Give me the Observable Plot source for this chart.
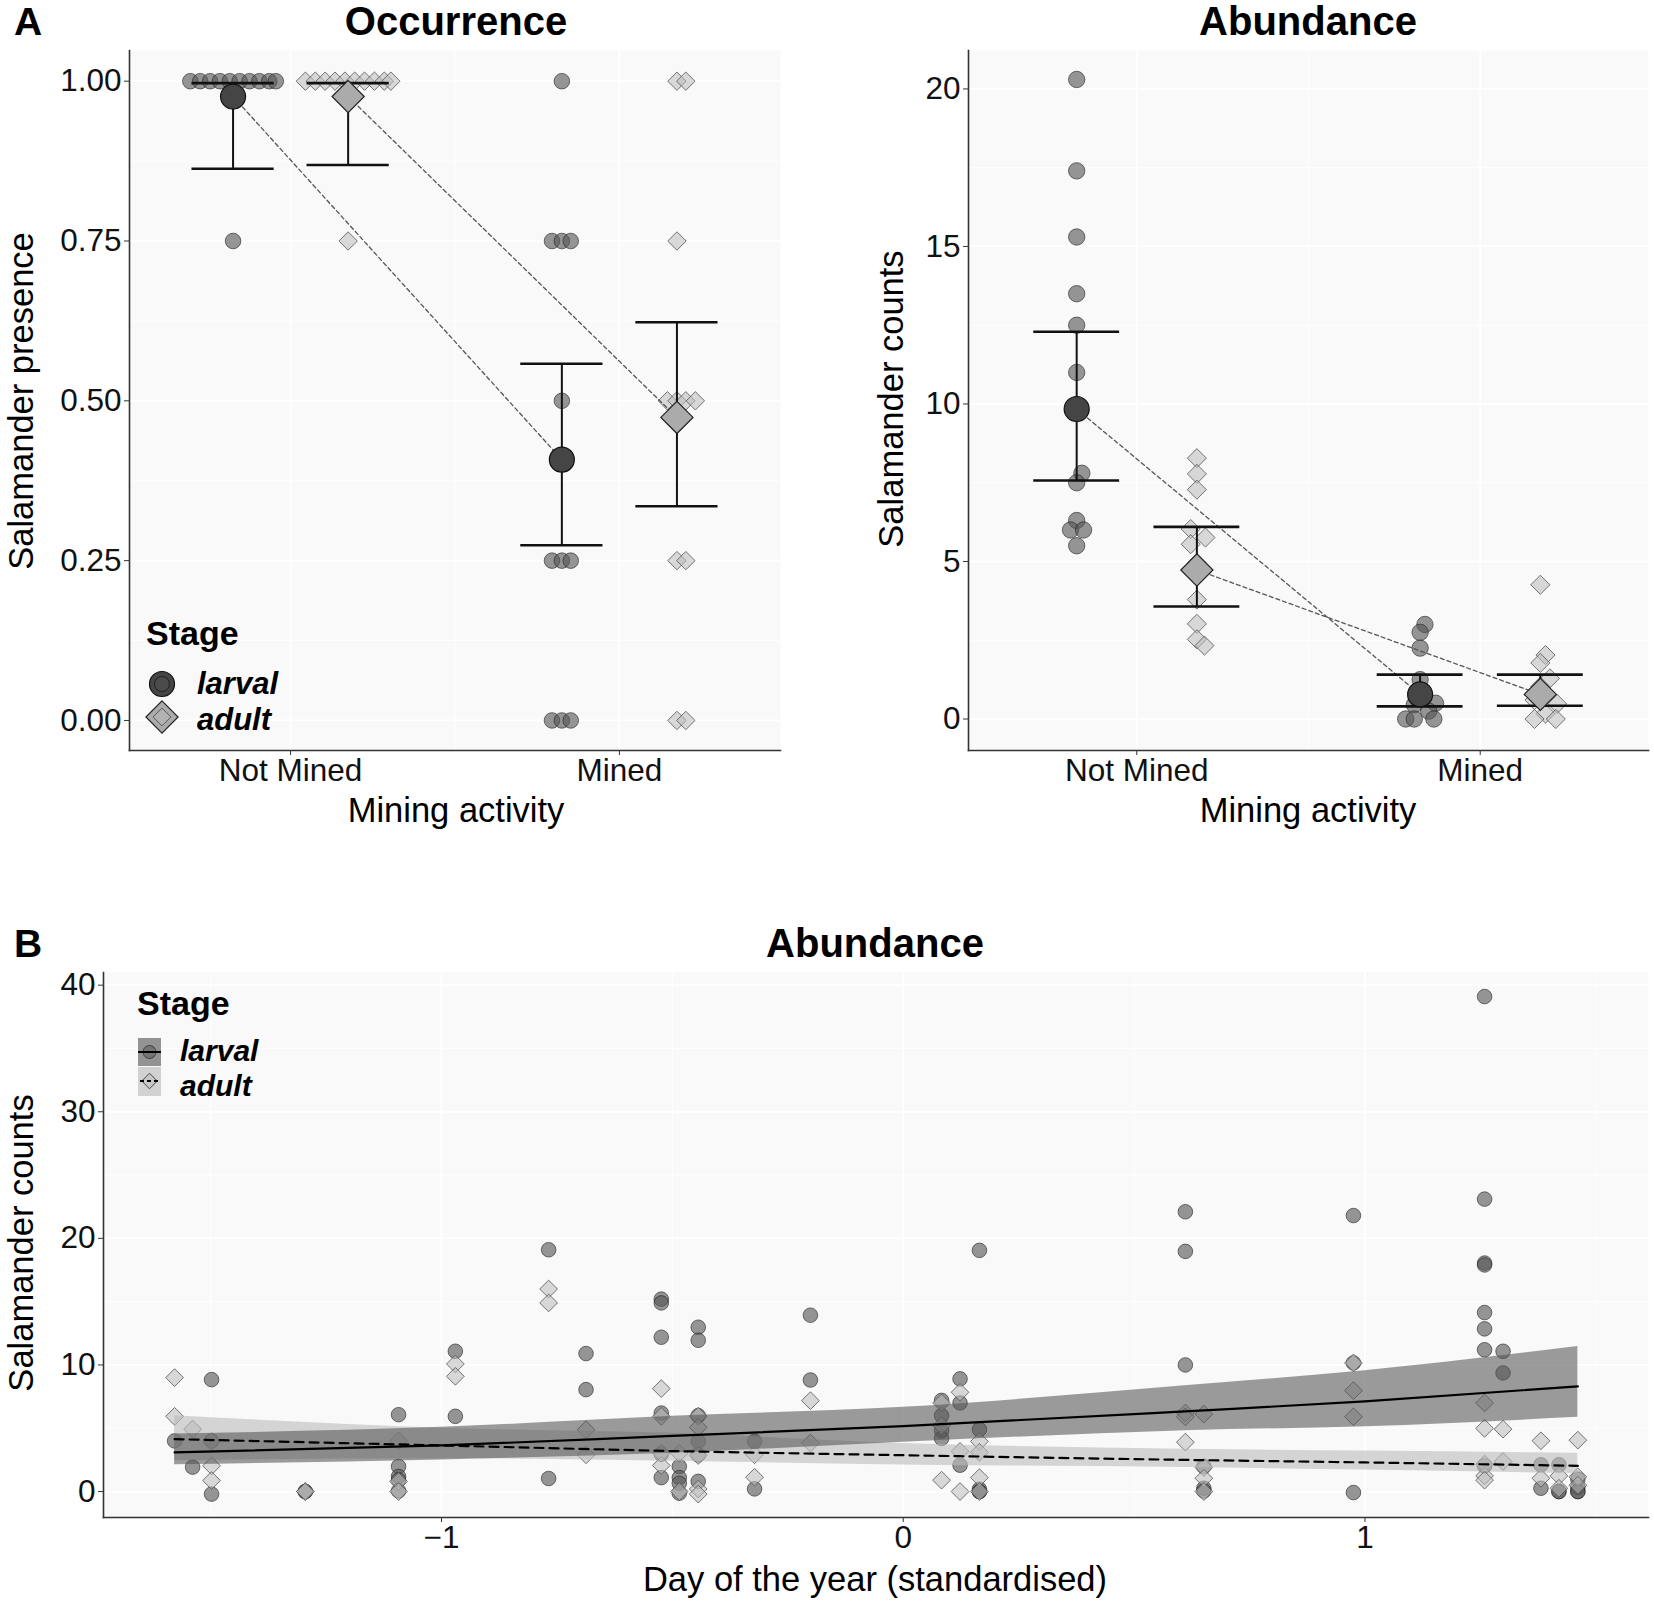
<!DOCTYPE html>
<html><head><meta charset="utf-8">
<script src="https://cdn.jsdelivr.net/npm/d3@7"></script>
<script src="https://cdn.jsdelivr.net/npm/@observablehq/plot@0.6"></script>
<style>
body{margin:0;background:#fff;}
#fig{position:relative;width:1654px;height:1603px;background:#fff;}
.pl{position:absolute;}
</style></head><body><div id="fig"></div>
<script>
const FONT = '"Liberation Sans", Arial, Helvetica, sans-serif';
// ---------- shared categories ----------
const miningLevels = ["Not Mined", "Mined"];
const stages = ["larval", "adult"];

// ---------- Panel A1: Occurrence ----------
const occTicks = [0, 0.25, 0.5, 0.75, 1];
const occMinor = [0.125, 0.375, 0.625, 0.875];
const occLarvalMean = [0.976, 0.408];
const occLarvalLo = [0.863, 0.274];
const occLarvalHi = [0.997, 0.558];
const occAdultMean = [0.976, 0.474];
const occAdultLo = [0.869, 0.335];
const occAdultHi = [0.997, 0.623];
const occLarvalNM = [1, 1, 1, 1, 1, 1, 1, 1, 1, 1, 0.75];
const occLarvalNMJit = [-0.13, -0.1, -0.07, -0.04, -0.01, 0.02, 0.05, 0.08, 0.11, 0.13, 0];
const occAdultNM = [1, 1, 1, 1, 1, 1, 1, 1, 1, 1, 0.75];
const occAdultNMJit = [-0.13, -0.1, -0.07, -0.04, -0.01, 0.02, 0.05, 0.08, 0.11, 0.13, 0];
const occLarvalM = [1, 0.75, 0.75, 0.75, 0.5, 0.25, 0.25, 0.25, 0, 0, 0];
const occLarvalMJit = [0, -0.03, 0, 0.027, 0, -0.03, 0, 0.027, -0.03, 0, 0.027];
const occAdultM = [1, 1, 0.75, 0.5, 0.5, 0.5, 0.5, 0.25, 0.25, 0, 0];
const occAdultMJit = [0, 0.027, 0, -0.029, 0, 0.027, 0.056, 0, 0.027, 0, 0.027];

// ---------- Panel A2: Abundance by mining ----------
const abTicks = [0, 5, 10, 15, 20];
const abMinor = [2.5, 7.5, 12.5, 17.5];
const abLarvalMean = [9.84, 0.78];
const abLarvalLo = [7.57, 0.40];
const abLarvalHi = [12.29, 1.41];
const abAdultMean = [4.73, 0.78];
const abAdultLo = [3.57, 0.42];
const abAdultHi = [6.1, 1.41];
const abLarvalNM = [20.3, 17.4, 15.3, 13.5, 12.5, 11.0, 7.8, 7.5, 6.3, 6.0, 6.0, 5.5];
const abLarvalNMJit = [0, 0, 0, 0, 0, 0, 0.015, 0, 0, -0.018, 0.02, 0];
const abAdultNM = [8.28, 7.78, 7.28, 6.03, 5.76, 5.55, 4.95, 3.79, 3.02, 2.53, 2.33];
const abAdultNMJit = [0, 0, 0, -0.018, 0.025, -0.018, 0, 0, 0, 0, 0.022];
const abLarvalM = [3.0, 2.75, 2.25, 1.25, 0.75, 0.5, 0.45, 0.25, 0, 0, 0];
const abLarvalMJit = [0.014, 0, 0, 0, 0, 0.045, -0.017, 0.025, -0.042, -0.017, 0.04];
const abAdultM = [4.26, 2.03, 1.78, 1.29, 1.03, 0.8, 0.6, 0.48, 0.17, 0, 0];
const abAdultMJit = [0, 0.015, 0, 0.028, 0, 0, -0.017, 0.049, 0.015, -0.017, 0.045];

// ---------- Panel B: Abundance by day ----------
const dayTicks = [-1, 0, 1];
const dayMinor = [-1.5, -0.5, 0.5, 1.5];
const countTicks = [0, 10, 20, 30, 40];
const countMinor = [5, 15, 25, 35];
const bLarvalDay = [-1.578, -1.539, -1.498, -1.498, -1.498, -1.295, -1.295,
  -1.093, -1.093, -1.093, -1.093, -1.093, -0.970, -0.970, -0.768, -0.768, -0.687, -0.687,
  -0.524, -0.524, -0.524, -0.524, -0.524, -0.524, -0.485, -0.485, -0.485, -0.485,
  -0.444, -0.444, -0.444, -0.444, -0.444, -0.444, -0.322, -0.322, -0.201, -0.201,
  0.083, 0.083, 0.083, 0.083, 0.123, 0.123, 0.123, 0.165, 0.165, 0.165, 0.165, 0.165,
  0.611, 0.611, 0.611, 0.651, 0.651, 0.651, 0.975, 0.975, 0.975,
  1.259, 1.259, 1.259, 1.259, 1.259, 1.259, 1.259, 1.259, 1.299, 1.299,
  1.381, 1.381, 1.420, 1.420, 1.420, 1.461, 1.461, 1.461, 1.461];
const bLarvalCount = [4.0, 1.93, 8.84, 4.0, -0.2, 0, 0,
  6.07, 1.98, 1.19, 0.92, 0.05, 11.08, 5.94, 19.1, 1.03, 10.9, 8.05,
  15.2, 14.9, 12.19, 6.2, 2.96, 1.1, 1.98, 1.1, 0.66, -0.13,
  12.98, 11.95, 6.0, 3.96, 2.9, 0.8, 3.96, 0.21, 13.93, 8.81,
  7.2, 6.0, 4.8, 4.2, 8.9, 7.0, 2.08, 19.05, 4.9, 0.18, 0, 0,
  22.1, 18.97, 10.0, 1.98, 0.26, 0.05, 21.8, 10.16, -0.08,
  39.1, 23.1, 18.05, 17.9, 14.14, 12.85, 11.2, 2.03, 11.08, 9.37,
  2.11, 0.26, 2.11, 0, 0, 0.98, 0.32, 0, 0];
const bAdultDay = [-1.578, -1.578, -1.539, -1.498, -1.498, -1.498, -1.295, -1.295,
  -1.093, -1.093, -1.093, -0.970, -0.970, -0.768, -0.768, -0.687, -0.687,
  -0.524, -0.524, -0.524, -0.524, -0.485, -0.485, -0.444, -0.444, -0.444, -0.444, -0.444,
  -0.322, -0.322, -0.201, -0.201, 0.083, 0.083, 0.083, 0.123, 0.123, 0.123,
  0.165, 0.165, 0.165, 0.165, 0.611, 0.611, 0.611, 0.651, 0.651, 0.651, 0.651,
  0.975, 0.975, 0.975, 1.259, 1.259, 1.259, 1.259, 1.259, 1.299, 1.299,
  1.381, 1.381, 1.420, 1.420, 1.461, 1.461, 1.461];
const bAdultCount = [9.0, 5.94, 4.93, 3.96, 2.03, 0.87, 0, 0,
  4.0, 0.8, 0, 10.08, 9.1, 16.0, 14.9, 4.88, 2.9,
  8.13, 5.94, 3.03, 2.06, 3.03, 0, 5.96, 5.07, 2.85, 0.2, -0.2,
  2.9, 1.13, 7.18, 3.83, 7.0, 5.2, 0.9, 7.84, 3.17, 0,
  3.96, 3.1, 1.1, 0, 6.2, 5.9, 3.9, 6.12, 1.9, 1.05, 0,
  10.16, 7.97, 5.91, 7.0, 4.99, 2.16, 1.24, 0.9, 4.93, 2.37,
  4.01, 1.05, 1.24, 0.26, 4.06, 1.16, 0.5];
const fitDay = [-1.578, -1.0, -0.5, 0, 0.61, 1.0, 1.461];
const larvalFit = [3.09, 3.64, 4.4, 5.17, 6.33, 7.12, 8.31];
const larvalLo = [2.11, 2.5, 3.03, 3.9, 4.8, 5.12, 5.86];
const larvalHi = [4.54, 5.07, 5.94, 6.65, 8.36, 9.55, 11.45];
const adultFit = [4.14, 3.64, 3.2, 2.87, 2.5, 2.3, 2.03];
const adultLo = [2.43, 2.6, 2.4, 2.1, 1.9, 1.7, 1.42];
const adultHi = [5.99, 5.0, 4.6, 3.8, 3.35, 3.2, 3.03];

// ---------- helpers ----------
const DODGE = 0.175, WHISK = 0.125;
const off = {larval: -DODGE, adult: DODGE};
function rawRows(stage, m, vals, jit) { return vals.map((v, i) => ({stage, m, v, jit: jit[i]})); }
function meanRows(stage, mean, lo, hi) { return mean.map((v, i) => ({stage, m: i + 1, v, lo: lo[i], hi: hi[i]})); }
const fig = document.getElementById("fig");
const PANEL_BG = "#f9f9f9";
const TICK_FS = 31.5;
const C_FILL = "#555", C_FOP = 0.62, C_STROKE = "#222";
const D_FILL = "#bbb", D_FOP = 0.55, D_STROKE = "#555";

function groupPanel({raw, means, width, height, margins, yDomain, yTicks, yMinor, yFormat, rC, rD}) {
  const xc = d => d.m + off[d.stage];
  const larvalRaw = raw.filter(d => d.stage === "larval");
  const adultRaw = raw.filter(d => d.stage === "adult");
  return Plot.plot({
    width, height, ...margins,
    x: {type: "linear", domain: [0.51, 2.49]},
    y: {domain: yDomain},
    style: {fontFamily: FONT, background: "transparent", color: "#111"},
    marks: [
      Plot.frame({fill: PANEL_BG, stroke: null}),
      Plot.gridY(yMinor, {stroke: "#fff", strokeOpacity: 1, strokeWidth: 0.9}),
      Plot.gridX([1.5], {stroke: "#fff", strokeOpacity: 1, strokeWidth: 0.9}),
      Plot.gridY(yTicks, {stroke: "#fff", strokeOpacity: 1, strokeWidth: 1.8}),
      Plot.gridX([1, 2], {stroke: "#fff", strokeOpacity: 1, strokeWidth: 1.8}),
      Plot.axisY(yTicks, {tickFormat: yFormat, tickSize: 5, tickPadding: 3, fontSize: TICK_FS, label: null, stroke: "#333"}),
      Plot.axisX([1, 2], {tickFormat: i => miningLevels[i - 1], tickSize: 5, tickPadding: 3, fontSize: TICK_FS, label: null, stroke: "#333"}),
      Plot.frame({anchor: "left", stroke: "#333", strokeWidth: 1.6}),
      Plot.frame({anchor: "bottom", stroke: "#333", strokeWidth: 1.6}),
      Plot.dot(larvalRaw, {x: d => xc(d) + d.jit, y: "v", symbol: "circle", r: rC, fill: C_FILL, fillOpacity: C_FOP, stroke: C_STROKE, strokeOpacity: 0.6, strokeWidth: 1}),
      Plot.dot(adultRaw, {x: d => xc(d) + d.jit, y: "v", symbol: "diamond2", r: rD, fill: D_FILL, fillOpacity: D_FOP, stroke: D_STROKE, strokeOpacity: 0.8, strokeWidth: 1}),
      Plot.line(means, {x: xc, y: "v", z: "stage", stroke: "#555", strokeWidth: 1.3, strokeDasharray: "4,3"}),
      Plot.ruleX(means, {x: xc, y1: "lo", y2: "hi", stroke: "#111", strokeWidth: 2}),
      Plot.ruleY(means, {y: "hi", x1: d => xc(d) - WHISK, x2: d => xc(d) + WHISK, stroke: "#111", strokeWidth: 2.6}),
      Plot.ruleY(means, {y: "lo", x1: d => xc(d) - WHISK, x2: d => xc(d) + WHISK, stroke: "#111", strokeWidth: 2.6}),
      Plot.dot(means.filter(d => d.stage === "larval"), {x: xc, y: "v", symbol: "circle", r: 12.5, fill: "#454545", stroke: "#111", strokeWidth: 1.2}),
      Plot.dot(means.filter(d => d.stage === "adult"), {x: xc, y: "v", symbol: "diamond2", r: 14.5, fill: "#ababab", stroke: "#222", strokeWidth: 1.2})
    ]
  });
}

// A1
const occRaw = [
  ...rawRows("larval", 1, occLarvalNM, occLarvalNMJit), ...rawRows("larval", 2, occLarvalM, occLarvalMJit),
  ...rawRows("adult", 1, occAdultNM, occAdultNMJit), ...rawRows("adult", 2, occAdultM, occAdultMJit)];
const occMeans = [...meanRows("larval", occLarvalMean, occLarvalLo, occLarvalHi), ...meanRows("adult", occAdultMean, occAdultLo, occAdultHi)];
const pA1 = groupPanel({raw: occRaw, means: occMeans, width: 800, height: 800,
  margins: {marginLeft: 129, marginRight: 20, marginTop: 50, marginBottom: 50},
  yDomain: [-0.047, 1.048], yTicks: occTicks, yMinor: occMinor, yFormat: d3.format(".2f"), rC: 7.8, rD: 8.3});
pA1.classList.add("pl"); pA1.style.left = "0px"; pA1.style.top = "0px";
fig.appendChild(pA1);

// A2
const abRaw = [
  ...rawRows("larval", 1, abLarvalNM, abLarvalNMJit), ...rawRows("larval", 2, abLarvalM, abLarvalMJit),
  ...rawRows("adult", 1, abAdultNM, abAdultNMJit), ...rawRows("adult", 2, abAdultM, abAdultMJit)];
const abMeans = [...meanRows("larval", abLarvalMean, abLarvalLo, abLarvalHi), ...meanRows("adult", abAdultMean, abAdultLo, abAdultHi)];
const pA2 = groupPanel({raw: abRaw, means: abMeans, width: 824, height: 800,
  margins: {marginLeft: 138, marginRight: 6, marginTop: 50, marginBottom: 50},
  yDomain: [-1.0, 21.22], yTicks: abTicks, yMinor: abMinor, yFormat: d3.format("d"), rC: 8.2, rD: 8.6});
pA2.classList.add("pl"); pA2.style.left = "830px"; pA2.style.top = "0px";
fig.appendChild(pA2);

// B
const bLarval = bLarvalDay.map((x, i) => ({x, v: bLarvalCount[i]}));
const bAdult = bAdultDay.map((x, i) => ({x, v: bAdultCount[i]}));
const fitRows = stage => fitDay.map((x, i) => stage === "larval"
  ? {x, fit: larvalFit[i], lo: larvalLo[i], hi: larvalHi[i]}
  : {x, fit: adultFit[i], lo: adultLo[i], hi: adultHi[i]});
const pB = Plot.plot({
  width: 1654, height: 680, marginLeft: 103, marginRight: 6, marginTop: 72, marginBottom: 63,
  x: {domain: [-1.732, 1.614]},
  y: {domain: [-2.05, 41.0]},
  style: {fontFamily: FONT, background: "transparent", color: "#111"},
  marks: [
    Plot.frame({fill: PANEL_BG, stroke: null}),
    Plot.gridY(countMinor, {stroke: "#fff", strokeOpacity: 1, strokeWidth: 0.9}),
    Plot.gridX(dayMinor, {stroke: "#fff", strokeOpacity: 1, strokeWidth: 0.9}),
    Plot.gridY(countTicks, {stroke: "#fff", strokeOpacity: 1, strokeWidth: 1.8}),
    Plot.gridX(dayTicks, {stroke: "#fff", strokeOpacity: 1, strokeWidth: 1.8}),
    Plot.axisY(countTicks, {tickFormat: d3.format("d"), tickSize: 5, tickPadding: 3, fontSize: TICK_FS, label: null, stroke: "#333"}),
    Plot.axisX(dayTicks, {tickFormat: d3.format("d"), tickSize: 5, tickPadding: 3, fontSize: TICK_FS, label: null, stroke: "#333"}),
    Plot.frame({anchor: "left", stroke: "#333", strokeWidth: 1.6}),
    Plot.frame({anchor: "bottom", stroke: "#333", strokeWidth: 1.6}),
    Plot.dot(bLarval, {x: "x", y: "v", symbol: "circle", r: 7.3, fill: C_FILL, fillOpacity: C_FOP, stroke: C_STROKE, strokeOpacity: 0.6, strokeWidth: 1}),
    Plot.dot(bAdult, {x: "x", y: "v", symbol: "diamond2", r: 8.0, fill: D_FILL, fillOpacity: D_FOP, stroke: D_STROKE, strokeOpacity: 0.8, strokeWidth: 1}),
    Plot.areaY(fitRows("adult"), {x: "x", y1: "lo", y2: "hi", fill: "#bbb", fillOpacity: 0.6, curve: "monotone-x"}),
    Plot.areaY(fitRows("larval"), {x: "x", y1: "lo", y2: "hi", fill: "#555", fillOpacity: 0.58, curve: "monotone-x"}),
    Plot.line(fitRows("adult"), {x: "x", y: "fit", stroke: "#000", strokeWidth: 2.2, strokeDasharray: "9,6", curve: "monotone-x"}),
    Plot.line(fitRows("larval"), {x: "x", y: "fit", stroke: "#000", strokeWidth: 2.2, curve: "monotone-x"})
  ]
});
pB.classList.add("pl"); pB.style.left = "0px"; pB.style.top = "900px";
fig.appendChild(pB);

// ---------- overlay: titles, axis titles, legends ----------
const ov = d3.select(fig).append("svg").attr("width", 1654).attr("height", 1603)
  .style("position", "absolute").style("left", "0px").style("top", "0px")
  .attr("font-family", FONT);
function txt(x, y, s, {size = 34.5, weight = "normal", style = "normal", anchor = "start", rot = false} = {}) {
  const t = ov.append("text").attr("x", x).attr("y", y).text(s)
    .attr("font-size", size).attr("font-weight", weight).attr("font-style", style)
    .attr("text-anchor", anchor).attr("fill", "#000");
  if (rot) t.attr("transform", `rotate(-90,${x},${y})`);
}
txt(14, 35, "A", {size: 39, weight: "bold"});
txt(456, 35, "Occurrence", {size: 40, weight: "bold", anchor: "middle"});
txt(1308, 35, "Abundance", {size: 40, weight: "bold", anchor: "middle"});
txt(14, 957, "B", {size: 39, weight: "bold"});
txt(875, 957, "Abundance", {size: 40, weight: "bold", anchor: "middle"});
txt(33, 401, "Salamander presence", {anchor: "middle", rot: true});
txt(903, 399, "Salamander counts", {anchor: "middle", rot: true});
txt(33, 1243, "Salamander counts", {anchor: "middle", rot: true});
txt(456, 822, "Mining activity", {anchor: "middle"});
txt(1308, 822, "Mining activity", {anchor: "middle"});
txt(875, 1591, "Day of the year (standardised)", {anchor: "middle"});

// legend A
txt(146, 645, "Stage", {size: 34, weight: "bold"});
txt(197, 694, stages[0], {size: 31, weight: "bold", style: "italic"});
txt(197, 730, stages[1], {size: 31, weight: "bold", style: "italic"});
const diamond = r => d3.symbol(d3.symbolDiamond2, Math.PI * r * r)();
ov.append("circle").attr("cx", 162).attr("cy", 684).attr("r", 12.5).attr("fill", "#454545").attr("stroke", "#111").attr("stroke-width", 1.2);
ov.append("circle").attr("cx", 162).attr("cy", 684).attr("r", 7.5).attr("fill", C_FILL).attr("fill-opacity", 0.35).attr("stroke", "#111").attr("stroke-opacity", 0.7);
ov.append("path").attr("d", diamond(14.5)).attr("transform", "translate(162,717)").attr("fill", "#ababab").attr("stroke", "#222").attr("stroke-width", 1.2);
ov.append("path").attr("d", diamond(8)).attr("transform", "translate(162,717)").attr("fill", D_FILL).attr("fill-opacity", 0.5).attr("stroke", "#444").attr("stroke-opacity", 0.8);

// legend B
txt(137, 1015, "Stage", {size: 34, weight: "bold"});
txt(180, 1061, stages[0], {size: 30, weight: "bold", style: "italic"});
txt(180, 1096, stages[1], {size: 30, weight: "bold", style: "italic"});
ov.append("rect").attr("x", 138).attr("y", 1038).attr("width", 23).attr("height", 28).attr("fill", "#939393");
ov.append("rect").attr("x", 138).attr("y", 1067).attr("width", 23).attr("height", 29).attr("fill", "#d2d2d2");
ov.append("circle").attr("cx", 149.5).attr("cy", 1052).attr("r", 6.5).attr("fill", C_FILL).attr("fill-opacity", 0.5).attr("stroke", "#222").attr("stroke-opacity", 0.7);
ov.append("line").attr("x1", 138).attr("x2", 161).attr("y1", 1052).attr("y2", 1052).attr("stroke", "#000").attr("stroke-width", 2);
ov.append("path").attr("d", diamond(7)).attr("transform", "translate(149.5,1081)").attr("fill", D_FILL).attr("fill-opacity", 0.5).attr("stroke", "#444");
ov.append("line").attr("x1", 140).attr("x2", 159).attr("y1", 1081).attr("y2", 1081).attr("stroke", "#000").attr("stroke-width", 2).attr("stroke-dasharray", "4,3");
</script></body></html>
